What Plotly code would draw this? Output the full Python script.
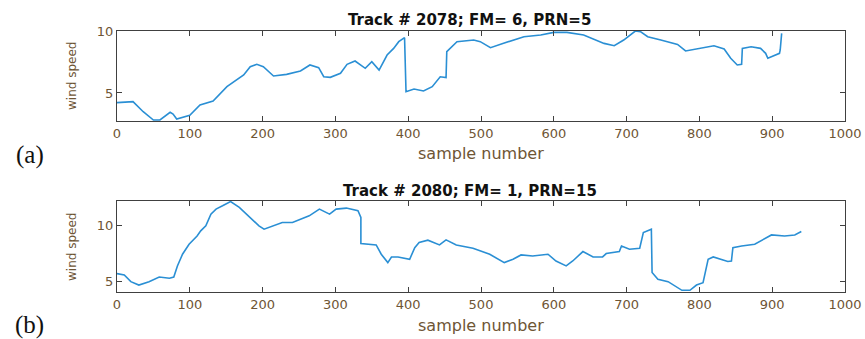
import plotly.graph_objects as go

# Panel (a): Track # 2078
xa = [0, 22, 36, 50, 59, 73, 77, 82, 100, 114, 132, 151, 174, 183, 192, 201, 215, 233, 252, 265, 277, 284, 293,
      307, 316, 327, 341, 350, 360, 371, 380, 387, 395, 397, 408, 421, 433, 444, 452, 453, 467, 490, 499, 513,
      531, 559, 582, 600, 618, 637, 641, 669, 683, 696, 712, 719, 729, 747, 770, 781, 797, 820, 834, 843, 852,
      858, 859, 871, 884, 891, 894, 903, 910, 911, 913]
ya = [4.22, 4.30, 3.49, 2.82, 2.82, 3.44, 3.30, 2.90, 3.20, 4.03, 4.35, 5.51, 6.45, 7.12, 7.31, 7.12, 6.37, 6.50,
      6.77, 7.26, 7.04, 6.31, 6.26, 6.59, 7.31, 7.58, 6.99, 7.53, 6.85, 8.06, 8.60, 9.14, 9.46, 5.10, 5.32, 5.16,
      5.51, 6.31, 6.24, 8.33, 9.14, 9.27, 9.14, 8.65, 9.01, 9.54, 9.68, 9.89, 9.89, 9.70, 9.68, 9.00, 8.81, 9.27,
      10.0, 9.95, 9.54, 9.27, 8.92, 8.39, 8.55, 8.81, 8.55, 7.80, 7.26, 7.31, 8.60, 8.73, 8.60, 8.20, 7.80, 8.01,
      8.20, 8.47, 9.81]

# Panel (b): Track # 2080
xb = [0, 10, 19, 30, 44, 58, 72, 78, 83, 90, 99, 110, 115, 122, 129, 136, 145, 156, 168, 182, 195, 202, 214, 227,
      241, 264, 278, 292, 301, 315, 331, 335, 335, 356, 363, 372, 377, 386, 402, 409, 415, 427, 443, 452, 466, 489,
      512, 532, 544, 555, 571, 592, 603, 617, 626, 640, 654, 667, 672, 690, 693, 704, 718, 723, 734, 735, 743, 757,
      776, 787, 796, 805, 812, 819, 839, 844, 846, 858, 876, 899, 917, 931, 940]
yb = [5.69, 5.56, 4.97, 4.67, 4.97, 5.38, 5.27, 5.38, 6.37, 7.41, 8.30, 9.04, 9.49, 9.94, 10.98, 11.43, 11.72, 12.1,
      11.58, 10.74, 9.94, 9.64, 9.94, 10.24, 10.24, 10.83, 11.43, 10.98, 11.43, 11.52, 11.28, 10.69, 8.37, 8.24,
      7.41, 6.67, 7.17, 7.17, 6.96, 8.00, 8.45, 8.66, 8.24, 8.69, 8.24, 7.95, 7.41, 6.67, 6.96, 7.35, 7.26, 7.41,
      6.81, 6.37, 6.81, 7.65, 7.17, 7.17, 7.47, 7.65, 8.15, 7.86, 7.95, 9.35, 9.64, 5.78, 5.18, 4.97, 4.20, 4.20,
      4.67, 4.88, 6.96, 7.17, 6.76, 6.81, 8.00, 8.15, 8.30, 9.13, 9.04, 9.13, 9.43]

titles = ["Track # 2078; FM= 6, PRN=5", "Track # 2080; FM= 1, PRN=15"]
panel_labels = ["(a)", "(b)"]
x_ticks = [0, 100, 200, 300, 400, 500, 600, 700, 800, 900, 1000]
y_ticks = [5, 10]

W, H = 865, 339
LINE = "#2a8fd4"
TICKC = "#6e5535"

fig = go.Figure()
fig.add_trace(go.Scatter(x=xa, y=ya, mode="lines", line=dict(color=LINE, width=1.6), xaxis="x", yaxis="y"))
fig.add_trace(go.Scatter(x=xb, y=yb, mode="lines", line=dict(color=LINE, width=1.6), xaxis="x2", yaxis="y2"))

xdom = [117 / W, 845 / W]
dom_a = [1 - 121 / H, 1 - 31 / H]
dom_b = [1 - 292 / H, 1 - 201 / H]

axis_common = dict(showline=True, linecolor="#404040", linewidth=1.3, mirror="ticks", ticks="inside",
                   ticklen=5, tickcolor="#404040", showgrid=False, zeroline=False, automargin=False,
                   tickfont=dict(family="DejaVu Sans", size=13, color=TICKC))

fig.update_layout(
    template="none",
    width=W, height=H, margin=dict(l=0, r=0, t=0, b=0, autoexpand=False),
    paper_bgcolor="white", plot_bgcolor="white", showlegend=False,
    xaxis=dict(domain=xdom, range=[0, 1000], tickvals=x_ticks, anchor="y", **axis_common),
    yaxis=dict(domain=dom_a, range=[2.74, 10], tickvals=y_ticks, anchor="x", **axis_common),
    xaxis2=dict(domain=xdom, range=[0, 1000], tickvals=x_ticks, anchor="y2", **axis_common),
    yaxis2=dict(domain=dom_b, range=[4.05, 12.15], tickvals=y_ticks, anchor="x2", **axis_common),
)

ann = []
for i, (ty, xy, ly) in enumerate([(20, 153, 155), (191, 325, 325)]):
    ann.append(dict(text="<b>" + titles[i] + "</b>", x=470 / W, y=1 - ty / H, xref="paper", yref="paper",
                    showarrow=False, xanchor="center", yanchor="middle",
                    font=dict(family="DejaVu Sans", size=15, color="#111111")))
    ann.append(dict(text="sample number", x=481 / W, y=1 - xy / H, xref="paper", yref="paper",
                    showarrow=False, xanchor="center", yanchor="middle",
                    font=dict(family="DejaVu Sans", size=16, color=TICKC)))
    ann.append(dict(text=panel_labels[i], x=30 / W, y=1 - ly / H, xref="paper", yref="paper",
                    showarrow=False, xanchor="center", yanchor="middle",
                    font=dict(family="Liberation Serif", size=25, color="#111111")))
for yc in [76, 247]:
    ann.append(dict(text="wind speed", x=72 / W, y=1 - yc / H, xref="paper", yref="paper",
                    showarrow=False, xanchor="center", yanchor="middle", textangle=-90,
                    font=dict(family="DejaVu Sans", size=12, color=TICKC)))
fig.update_layout(annotations=ann)

fig.write_html("out.html")
